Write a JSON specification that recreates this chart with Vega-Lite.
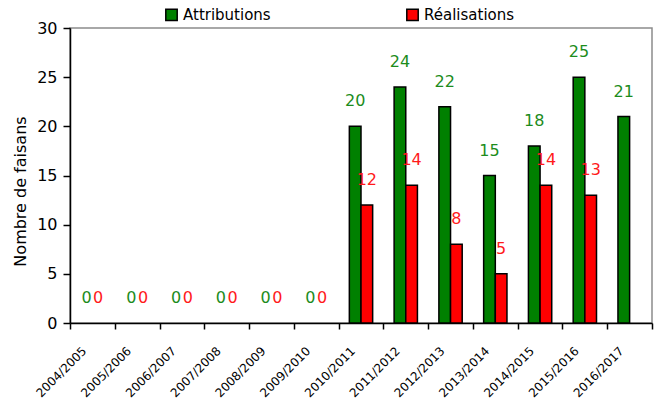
{
  "$schema": "https://vega.github.io/schema/vega-lite/v6.json",
  "autosize": "none",
  "width": 582,
  "height": 295,
  "padding": {"left": 70, "top": 28, "right": 9, "bottom": 80},
  "background": "white",
  "config": {
    "font": "DejaVu Sans",
    "view": {"stroke": "#8c8c8c", "strokeWidth": 1.5}
  },
  "data": {
    "values": [
      {"annee": "2004/2005", "serie": "Attributions", "valeur": 0},
      {"annee": "2004/2005", "serie": "Réalisations", "valeur": 0},
      {"annee": "2005/2006", "serie": "Attributions", "valeur": 0},
      {"annee": "2005/2006", "serie": "Réalisations", "valeur": 0},
      {"annee": "2006/2007", "serie": "Attributions", "valeur": 0},
      {"annee": "2006/2007", "serie": "Réalisations", "valeur": 0},
      {"annee": "2007/2008", "serie": "Attributions", "valeur": 0},
      {"annee": "2007/2008", "serie": "Réalisations", "valeur": 0},
      {"annee": "2008/2009", "serie": "Attributions", "valeur": 0},
      {"annee": "2008/2009", "serie": "Réalisations", "valeur": 0},
      {"annee": "2009/2010", "serie": "Attributions", "valeur": 0},
      {"annee": "2009/2010", "serie": "Réalisations", "valeur": 0},
      {"annee": "2010/2011", "serie": "Attributions", "valeur": 20},
      {"annee": "2010/2011", "serie": "Réalisations", "valeur": 12},
      {"annee": "2011/2012", "serie": "Attributions", "valeur": 24},
      {"annee": "2011/2012", "serie": "Réalisations", "valeur": 14},
      {"annee": "2012/2013", "serie": "Attributions", "valeur": 22},
      {"annee": "2012/2013", "serie": "Réalisations", "valeur": 8},
      {"annee": "2013/2014", "serie": "Attributions", "valeur": 15},
      {"annee": "2013/2014", "serie": "Réalisations", "valeur": 5},
      {"annee": "2014/2015", "serie": "Attributions", "valeur": 18},
      {"annee": "2014/2015", "serie": "Réalisations", "valeur": 14},
      {"annee": "2015/2016", "serie": "Attributions", "valeur": 25},
      {"annee": "2015/2016", "serie": "Réalisations", "valeur": 13},
      {"annee": "2016/2017", "serie": "Attributions", "valeur": 21}
    ]
  },
  "encoding": {
    "x": {
      "field": "annee",
      "type": "nominal",
      "sort": ["2004/2005", "2005/2006", "2006/2007", "2007/2008", "2008/2009", "2009/2010", "2010/2011", "2011/2012", "2012/2013", "2013/2014", "2014/2015", "2015/2016", "2016/2017"],
      "scale": {"paddingInner": 0, "paddingOuter": 0},
      "axis": {
        "title": null,
        "labelAngle": -45,
        "labelFontSize": 12,
        "labelColor": "black",
        "labelPadding": 16,
        "labelOffset": -12,
        "tickBand": "extent",
        "tickSize": 6,
        "tickColor": "black",
        "tickWidth": 1.5,
        "domainColor": "black",
        "domainWidth": 1.5,
        "grid": false
      }
    },
    "xOffset": {
      "field": "serie",
      "type": "nominal",
      "scale": {"domain": ["Attributions", "Réalisations"], "paddingOuter": 0.92, "paddingInner": 0}
    },
    "y": {
      "field": "valeur",
      "type": "quantitative",
      "scale": {"domain": [0, 30]},
      "axis": {
        "title": "Nombre de faisans",
        "titleFontSize": 16,
        "titleFontWeight": "normal",
        "titleColor": "black",
        "titlePadding": 8,
        "titleY": 163,
        "values": [0, 5, 10, 15, 20, 25, 30],
        "labelFontSize": 16,
        "labelColor": "black",
        "labelPadding": 6,
        "tickSize": 7,
        "tickColor": "black",
        "tickWidth": 1.5,
        "domainColor": "black",
        "domainWidth": 1.5,
        "grid": false
      }
    }
  },
  "layer": [
    {
      "mark": {"type": "bar", "stroke": "black", "strokeWidth": 1.5},
      "transform": [{"filter": "datum.valeur > 0"}],
      "encoding": {
        "color": {
          "field": "serie",
          "type": "nominal",
          "scale": {"domain": ["Attributions", "Réalisations"], "range": ["#008000", "#FF0000"]},
          "legend": {
            "title": null,
            "orient": "none",
            "direction": "horizontal",
            "legendX": 94,
            "legendY": -21,
            "symbolType": "square",
            "symbolSize": 130,
            "symbolStrokeColor": "black",
            "symbolStrokeWidth": 1.5,
            "symbolOpacity": 1,
            "labelFontSize": 15,
            "labelColor": "black",
            "labelOffset": 4,
            "columnPadding": 132
          }
        }
      }
    },
    {
      "mark": {"type": "text", "baseline": "middle", "align": "center", "dy": -25, "fontSize": 16},
      "encoding": {
        "text": {"field": "valeur", "type": "quantitative"},
        "fill": {
          "field": "serie",
          "type": "nominal",
          "scale": {"domain": ["Attributions", "Réalisations"], "range": ["#1c8c1c", "#FF1a1a"]},
          "legend": null
        }
      }
    }
  ]
}
